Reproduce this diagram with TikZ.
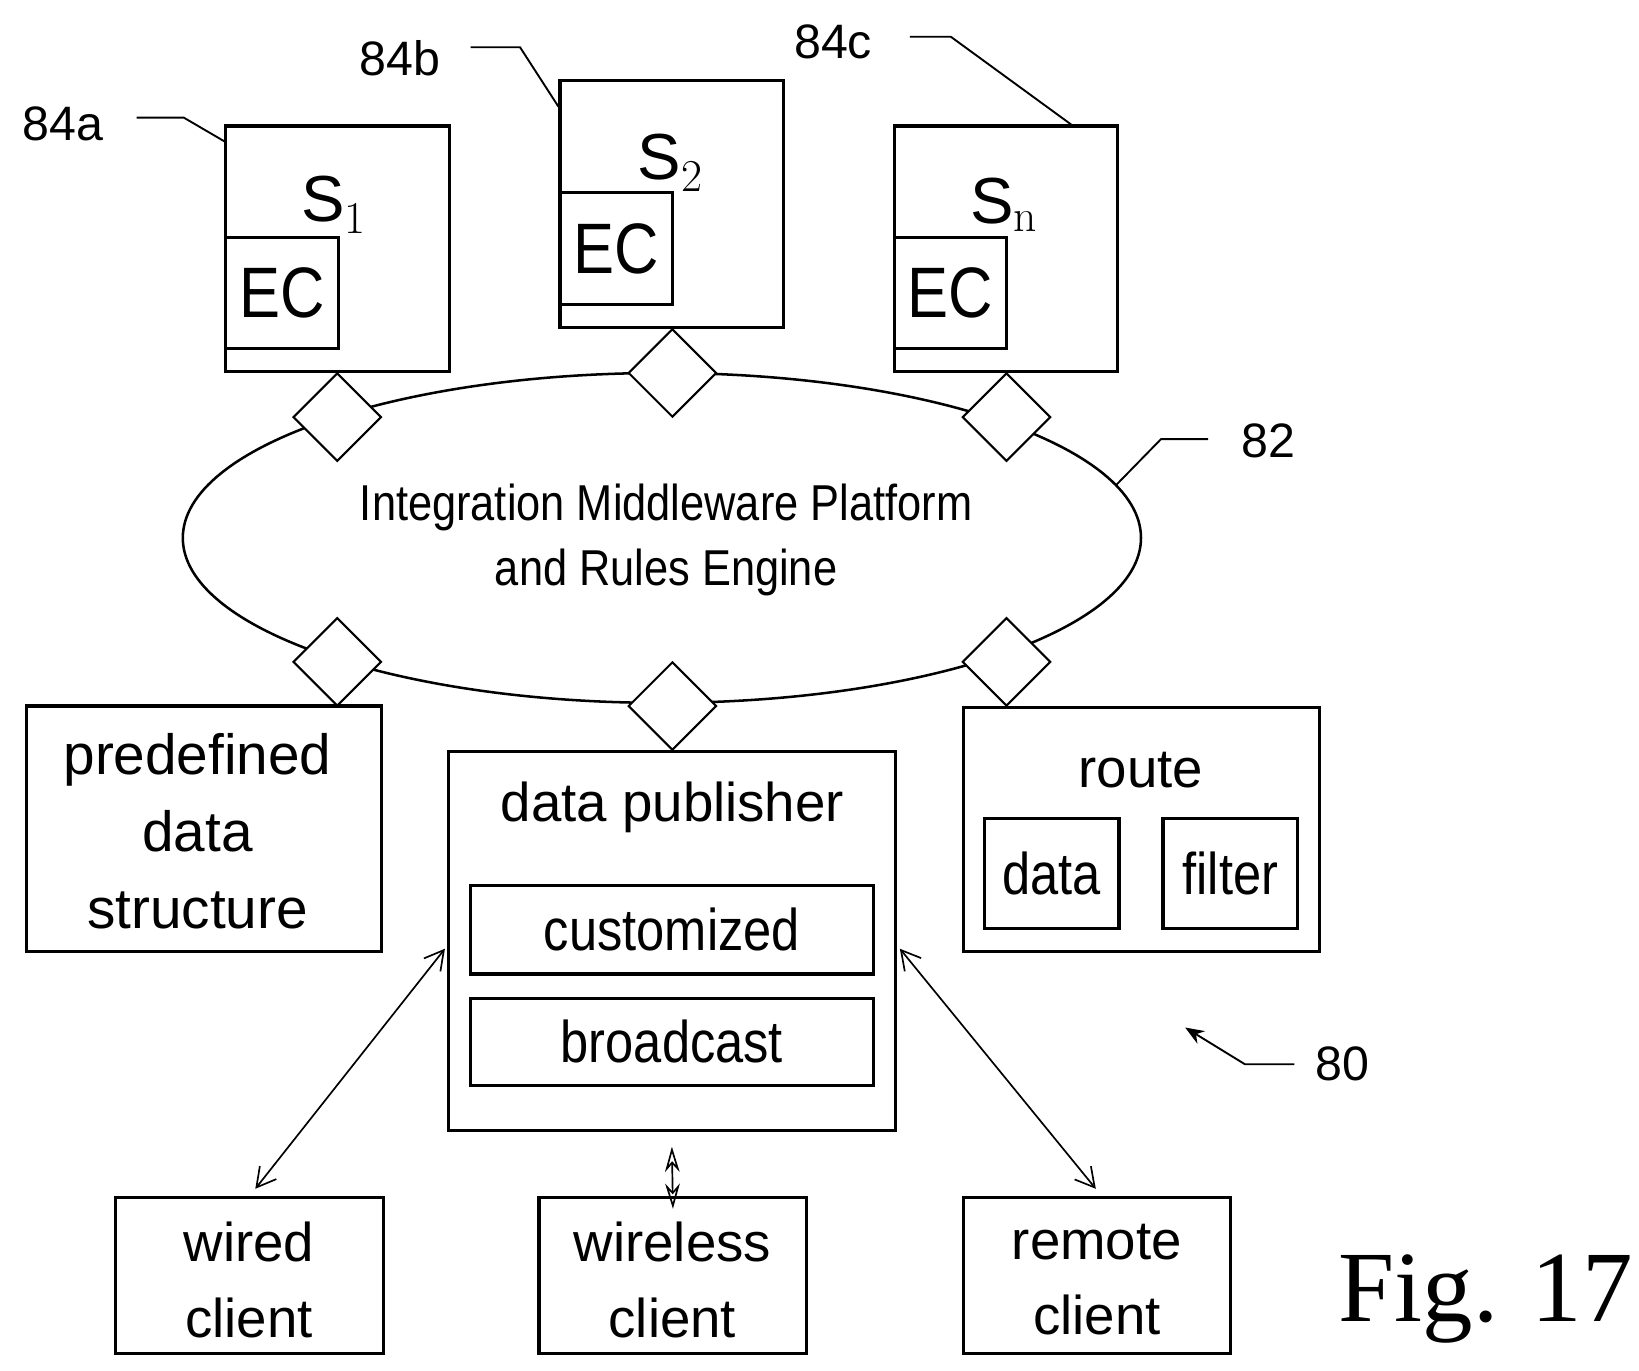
\documentclass[tikz,border=0pt]{standalone}
\usepackage{fontspec}
\setsansfont{Liberation Sans}
\newfontfamily\cond{Liberation Sans}[FakeStretch=0.86]
\newfontfamily\figf{Liberation Serif}
\usetikzlibrary{shapes.geometric,arrows.meta}
\begin{document}
\begin{tikzpicture}[x=0.5pt,y=-0.5pt,
  box/.style={draw,line width=1.5pt,rectangle,inner sep=0pt},
  dia/.style={draw,fill=white,line width=1pt,diamond,minimum size=42pt,inner sep=0pt},
  big/.style={font=\sffamily\fontsize{26}{36}\selectfont,align=center},
  cnd/.style={font=\cond\fontsize{28}{34}\selectfont},
  ref/.style={font=\sffamily\fontsize{23}{27}\selectfont},
  lead/.style={line width=0.9pt},
  biarrow/.style={line width=0.8pt,{Straight Barb[length=9pt,width=10pt]}-{Straight Barb[length=9pt,width=10pt]}}]
\useasboundingbox (0,0) rectangle (1560,1304);
% ellipse
\node[draw,ellipse,line width=1.2pt,minimum width=912*0.5pt,minimum height=314*0.5pt,inner sep=0pt] (ell) at (630,512) {};
\node[font=\cond\fontsize{24}{31}\selectfont,align=center] (elltxt) at (634,514) {Integration Middleware Platform\\and Rules Engine};
% servers
\node[box,minimum width=106.5pt,minimum height=117pt] (s1) at (321.5,237) {};
\node[box,minimum width=53.5pt,minimum height=53pt] (ec1) at (268.5,279) {};
\node[font=\sffamily\fontsize{31}{31}\selectfont] (s1l) at (318,195) {S$_{\mathrm{1}}$};
\node[box,minimum width=106.5pt,minimum height=117.5pt] (s2) at (639.5,194.5) {};
\node[box,minimum width=53.5pt,minimum height=53.5pt] (ec2) at (586.5,236.5) {};
\node[font=\sffamily\fontsize{31}{31}\selectfont] (s2l) at (638,155) {S$_{\mathrm{2}}$};
\node[box,minimum width=106.5pt,minimum height=117pt] (sn) at (957.5,237) {};
\node[box,minimum width=53.5pt,minimum height=53pt] (ecn) at (904.5,279) {};
\node[font=\sffamily\fontsize{31}{31}\selectfont] (snl) at (956,195) {S$_{\mathrm{n}}$};
\node[font=\cond\fontsize{34}{34}\selectfont] at (ec1) {EC};
\node[font=\cond\fontsize{34}{34}\selectfont] at (ec2) {EC};
\node[font=\cond\fontsize{34}{34}\selectfont] at (ecn) {EC};
% diamonds
\node[dia] (d1) at (321,397) {};
\node[dia] (d2) at (640,355) {};
\node[dia] (d3) at (958,397) {};
\node[dia] (d4) at (321,630) {};
\node[dia] (d5) at (640,672) {};
\node[dia] (d6) at (958,630) {};
% lower boxes
\node[box,minimum width=169pt,minimum height=117pt] (pre) at (194,789) {};
\node[big,font=\sffamily\fontsize{27}{36.5}\selectfont] at (188,791) {predefined\\data\\structure};
\node[box,minimum width=212.5pt,minimum height=180.5pt] (pub) at (639.5,895.5) {};
\node[big] at (640,768) {data publisher};
\node[box,minimum width=191.5pt,minimum height=42pt] (cust) at (639.5,885) {};
\node[cnd] at (cust) {customized};
\node[box,minimum width=191.5pt,minimum height=41.5pt] (broad) at (639.5,991.5) {};
\node[cnd] at (broad) {broadcast};
\node[box,minimum width=169.5pt,minimum height=116.5pt] (route) at (1086.5,789.5) {};
\node[big] at (1086,733) {route};
\node[box,minimum width=64pt,minimum height=52.5pt] (data) at (1001,831.5) {};
\node[cnd] at (data) {data};
\node[box,minimum width=64pt,minimum height=52.5pt] (filter) at (1171,831.5) {};
\node[cnd] at (filter) {filter};
\node[box,minimum width=127.5pt,minimum height=74pt] (wired) at (237.5,1214) {};
\node[big] at (237,1218) {wired\\client};
\node[box,minimum width=127.5pt,minimum height=74pt] (wireless) at (640.5,1214) {};
\node[big] at (640,1218) {wireless\\client};
\node[box,minimum width=127pt,minimum height=74pt] (remote) at (1044,1214) {};
\node[big] at (1044,1218) {remote\\client};
% arrows
\draw[biarrow] ([shift={(5.5,-7)}]wired.north) -- ([shift={(-2,7.5)}]pub.west);
\draw[biarrow] ([shift={(-1,-7)}]remote.north) -- ([shift={(3,7.5)}]pub.east);
\draw[line width=0.8pt,{Stealth[open,length=12pt,width=7pt]}-{Stealth[open,length=12pt,width=7pt]}] ([yshift=-7]pub.south) -- ([yshift=-6]wireless.north);
% reference labels
\node[ref] (l84a) at (60,118) {84a};
\draw[lead] (130,112) -- (175,112) -- ([yshift=-8]s1.north west);
\node[ref] (l84b) at (381,55) {84b};
\draw[lead] (448,45) -- (495,45) -- ([yshift=-13]s2.north west);
\node[ref] (l84c) at (793,40) {84c};
\draw[lead] (866,35) -- (905,35) -- ([xshift=85]sn.north west);
\node[ref] (l82) at (1207,420) {82};
\draw[lead] (1150,418) -- (1105,418) -- (1062,462);
\node[ref] (l80) at (1278,1013) {80};
\draw[lead,-{Stealth[length=9pt,width=7pt]}] (1232,1013) -- (1185,1013) -- (1128,978);
\node[font=\figf\fontsize{48}{48}\selectfont,anchor=base] (fig) at (1414,1258) {Fig. 17};
\end{tikzpicture}
\end{document}
